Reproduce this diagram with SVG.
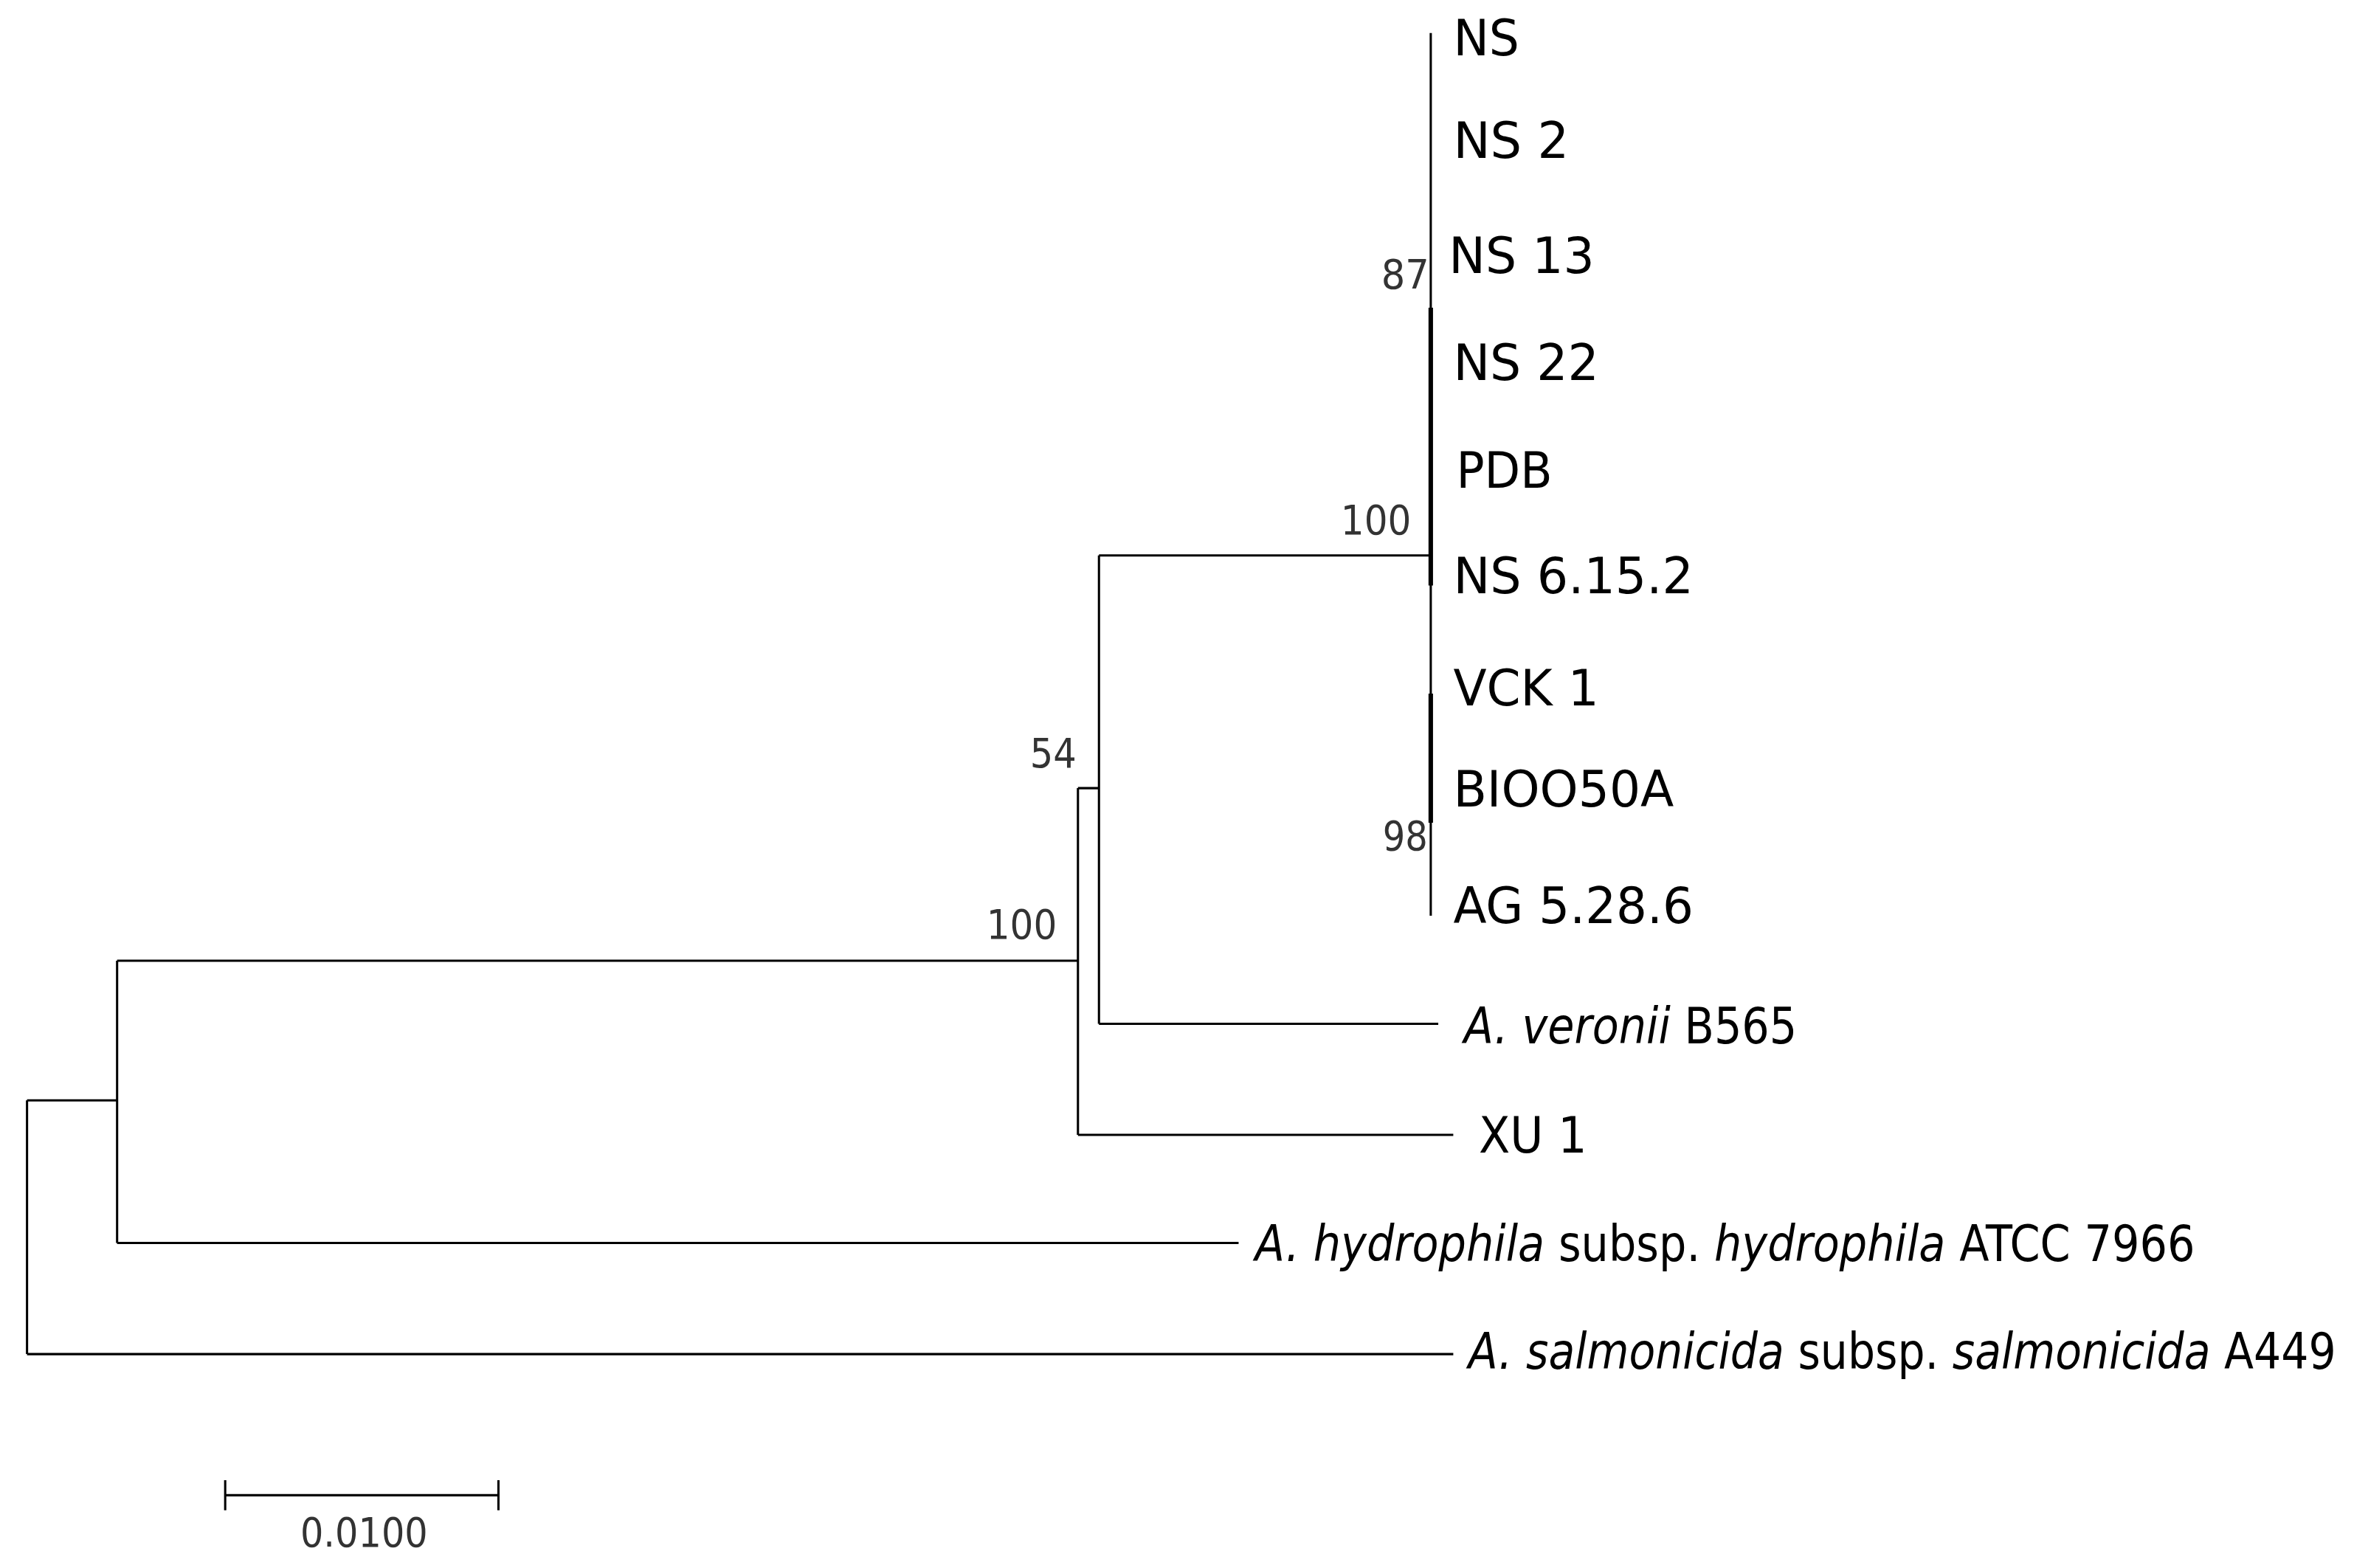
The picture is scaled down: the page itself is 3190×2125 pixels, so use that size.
<svg xmlns="http://www.w3.org/2000/svg" width="3190" height="2125" viewBox="0 0 3190 2125">
<style>
.b{stroke:#000;stroke-width:1.5;fill:none}
.k{stroke:#000;stroke-width:3;fill:none}
.t{font-family:"DejaVu Sans",sans-serif;font-size:33px;fill:#000}
.c{font-family:"DejaVu Sans",sans-serif;font-size:33px;fill:#000}
.n{font-family:"DejaVu Sans",sans-serif;font-size:27px;fill:#333}
</style>
<rect width="3190" height="2125" fill="#fff"/>
<g transform="scale(2.0345)">
<g id="connectors">
<path class="b" d="M953 22V610"/>
<path class="k" d="M953 205V390M953 462V548"/>
<path class="b" d="M732 370H953M732 370V682M732 682H958M718 525H732M718 525V756M718 756H968M78 640H718M78 640V828M78 828H825M18 733H78M18 733V902M18 902H968"/>
<path class="b" d="M150 996H332M150 986V1006M332 986V1006"/>
</g>
<g id="n-NS"><text class="t" x="968" y="37" textLength="44" lengthAdjust="spacingAndGlyphs">NS</text></g>
<g id="n-NS2"><text class="t" x="968" y="105" textLength="77" lengthAdjust="spacingAndGlyphs">NS 2</text></g>
<g id="n-NS13"><text class="t" x="965" y="182" textLength="97" lengthAdjust="spacingAndGlyphs">NS 13</text></g>
<g id="n-NS22"><text class="t" x="968" y="253" textLength="97" lengthAdjust="spacingAndGlyphs">NS 22</text></g>
<g id="n-PDB"><text class="t" x="970" y="325" textLength="64" lengthAdjust="spacingAndGlyphs">PDB</text></g>
<g id="n-NS6152"><text class="t" x="968" y="395" textLength="160" lengthAdjust="spacingAndGlyphs">NS 6.15.2</text></g>
<g id="n-VCK1"><text class="t" x="968" y="470" textLength="97" lengthAdjust="spacingAndGlyphs">VCK 1</text></g>
<g id="n-BIOO50A"><text class="t" x="968" y="537" textLength="147" lengthAdjust="spacingAndGlyphs">BIOO50A</text></g>
<g id="n-AG"><text class="t" x="968" y="615" textLength="160" lengthAdjust="spacingAndGlyphs">AG 5.28.6</text></g>
<g id="n-veronii"><text class="c" x="975" y="695" textLength="222" lengthAdjust="spacingAndGlyphs"><tspan font-style="italic">A. veronii</tspan> B565</text></g>
<g id="n-XU1"><text class="c" x="985" y="768" textLength="72" lengthAdjust="spacingAndGlyphs">XU 1</text></g>
<g id="n-hydrophila"><text class="c" x="836" y="840" textLength="626" lengthAdjust="spacingAndGlyphs"><tspan font-style="italic">A. hydrophila</tspan> subsp. <tspan font-style="italic">hydrophila</tspan> ATCC 7966</text></g>
<g id="n-salmonicida"><text class="c" x="978" y="912" textLength="578" lengthAdjust="spacingAndGlyphs"><tspan font-style="italic">A. salmonicida</tspan> subsp. <tspan font-style="italic">salmonicida</tspan> A449</text></g>
<g id="bootstrap">
<text class="n" x="920" y="192" textLength="32" lengthAdjust="spacingAndGlyphs">87</text>
<text class="n" x="893" y="356" textLength="47" lengthAdjust="spacingAndGlyphs">100</text>
<text class="n" x="921" y="566" textLength="30" lengthAdjust="spacingAndGlyphs">98</text>
<text class="n" x="686" y="511" textLength="31" lengthAdjust="spacingAndGlyphs">54</text>
<text class="n" x="657" y="625" textLength="47" lengthAdjust="spacingAndGlyphs">100</text>
</g>
<g id="scale"><text class="n" x="200" y="1030" textLength="85" lengthAdjust="spacingAndGlyphs">0.0100</text></g>
</g>
</svg>
